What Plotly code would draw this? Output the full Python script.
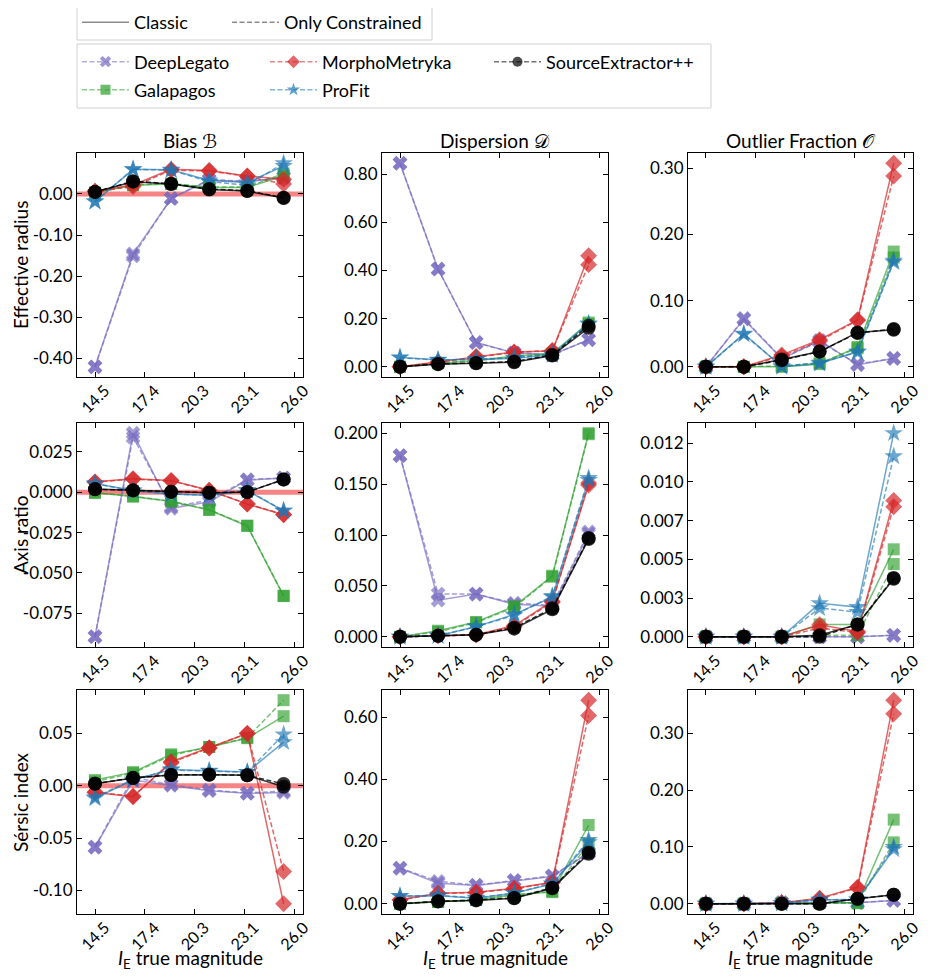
import plotly.graph_objects as go

# magnitude bins (x) and the tick labels shown on every panel
MAGNITUDES = [14.5, 16.7, 18.9, 21.1, 23.3, 25.4]
MAG_TICKS = [14.5, 17.375, 20.25, 23.125, 26.0]
MAG_TICK_LABELS = ["14.5", "17.4", "20.3", "23.1", "26.0"]

METHODS = ["DeepLegato", "Galapagos", "MorphoMetryka", "ProFit", "SourceExtractor++"]
COLUMN_TITLES = ["Bias ℬ", "Dispersion 𝒟", "Outlier Fraction 𝒪"]
ROW_TITLES = ["Effective radius", "Axis ratio", "Sérsic index"]
X_TITLE = "<i>I</i><sub>E</sub> true magnitude"

# each panel: method -> (classic, only constrained)
REFF_BIAS = {
    "DeepLegato": ([-0.421, -0.146, -0.011, 0.034, 0.030, 0.040], [-0.421, -0.151, -0.011, 0.035, 0.031, 0.041]),
    "Galapagos": ([0.003, 0.021, 0.024, 0.016, 0.016, 0.044], [0.003, 0.022, 0.025, 0.017, 0.017, 0.050]),
    "MorphoMetryka": ([0.007, 0.022, 0.060, 0.057, 0.044, 0.036], [0.006, 0.018, 0.058, 0.056, 0.043, 0.024]),
    "ProFit": ([-0.019, 0.060, 0.059, 0.033, 0.028, 0.068], [-0.018, 0.060, 0.058, 0.030, 0.021, 0.075]),
    "SourceExtractor++": ([0.005, 0.030, 0.024, 0.011, 0.007, -0.010], [0.005, 0.031, 0.025, 0.012, 0.008, -0.009]),
}
REFF_DISP = {
    "DeepLegato": ([0.844, 0.406, 0.101, 0.058, 0.050, 0.112], [0.845, 0.405, 0.100, 0.057, 0.050, 0.113]),
    "Galapagos": ([0.0, 0.015, 0.025, 0.045, 0.055, 0.184], [0.0, 0.016, 0.027, 0.040, 0.053, 0.178]),
    "MorphoMetryka": ([0.0, 0.020, 0.043, 0.062, 0.066, 0.461], [0.0, 0.018, 0.040, 0.060, 0.068, 0.424]),
    "ProFit": ([0.039, 0.029, 0.030, 0.035, 0.050, 0.180], [0.038, 0.028, 0.032, 0.038, 0.052, 0.176]),
    "SourceExtractor++": ([0.0, 0.011, 0.015, 0.019, 0.047, 0.162], [0.0, 0.012, 0.016, 0.022, 0.049, 0.170]),
}
REFF_OUT = {
    "DeepLegato": ([0.0, 0.072, 0.012, 0.040, 0.003, 0.0125], [0.0, 0.073, 0.013, 0.038, 0.004, 0.013]),
    "Galapagos": ([0.0, 0.0, 0.0, 0.004, 0.030, 0.174], [0.0, 0.0, 0.001, 0.006, 0.028, 0.165]),
    "MorphoMetryka": ([0.0, 0.0, 0.018, 0.041, 0.071, 0.3075], [0.0, 0.0, 0.016, 0.039, 0.070, 0.288]),
    "ProFit": ([0.0, 0.050, 0.0, 0.005, 0.023, 0.160], [0.0, 0.049, 0.001, 0.006, 0.022, 0.158]),
    "SourceExtractor++": ([0.0, 0.0, 0.011, 0.023, 0.052, 0.056], [0.0, 0.0, 0.010, 0.023, 0.051, 0.057]),
}
AXR_BIAS = {
    "DeepLegato": ([-0.0895, 0.0365, -0.010, -0.006, 0.0074, 0.0087], [-0.0893, 0.034, -0.009, -0.005, 0.0078, 0.0088]),
    "Galapagos": ([-0.0004, -0.0027, -0.0058, -0.011, -0.0209, -0.0643], [-0.0003, -0.0026, -0.0056, -0.0108, -0.0207, -0.0641]),
    "MorphoMetryka": ([0.0064, 0.0083, 0.0072, 0.0012, -0.0074, -0.014], [0.0062, 0.0081, 0.0070, 0.0010, -0.0072, -0.0138]),
    "ProFit": ([0.0054, 0.001, -0.0012, -0.002, 0.001, -0.0116], [0.0052, 0.0009, -0.0011, -0.0019, 0.0011, -0.0114]),
    "SourceExtractor++": ([0.0019, 0.0012, 0.0002, -0.0004, 0.0, 0.0079], [0.0018, 0.0011, 0.0002, -0.0003, 0.0001, 0.0078]),
}
AXR_DISP = {
    "DeepLegato": ([0.178, 0.036, 0.042, 0.032, 0.030, 0.101], [0.178, 0.042, 0.042, 0.033, 0.031, 0.103]),
    "Galapagos": ([0.0, 0.006, 0.0145, 0.030, 0.060, 0.200], [0.0, 0.005, 0.014, 0.029, 0.059, 0.199]),
    "MorphoMetryka": ([0.0, 0.0013, 0.002, 0.011, 0.035, 0.149], [0.0, 0.0012, 0.002, 0.010, 0.034, 0.151]),
    "ProFit": ([0.0, 0.001, 0.010, 0.022, 0.039, 0.154], [0.0, 0.001, 0.010, 0.021, 0.040, 0.156]),
    "SourceExtractor++": ([0.0, 0.001, 0.002, 0.008, 0.027, 0.096], [0.0, 0.001, 0.002, 0.009, 0.028, 0.097]),
}
AXR_OUT = {
    "DeepLegato": ([0.0, 0.0, 0.0, 0.0, 0.0, 0.0001], [0.0, 0.0, 0.0, 0.0, 0.0, 0.0001]),
    "Galapagos": ([0.0, 0.0, 0.0, 0.0008, 0.0008, 0.00565], [0.0, 0.0, 0.0, 0.0001, 0.0001, 0.0047]),
    "MorphoMetryka": ([0.0, 0.0, 0.0, 0.00078, 0.00034, 0.0088], [0.0, 0.0, 0.0, 0.00056, 0.00028, 0.0084]),
    "ProFit": ([0.0, 0.0, 0.0, 0.00216, 0.00192, 0.01315], [0.0, 0.0, 0.0, 0.00185, 0.0016, 0.01166]),
    "SourceExtractor++": ([0.0, 0.0, 0.0, 0.0001, 0.0008, 0.00375], [0.0, 0.0, 0.0, 0.0, 0.0008, 0.0038]),
}
SERSIC_BIAS = {
    "DeepLegato": ([-0.0588, 0.0054, 0.0003, -0.0048, -0.0073, -0.0064], [-0.0585, 0.008, 0.001, -0.004, -0.007, -0.005]),
    "Galapagos": ([0.0054, 0.013, 0.030, 0.037, 0.0454, 0.0664], [0.004, 0.012, 0.029, 0.037, 0.046, 0.0817]),
    "MorphoMetryka": ([-0.0064, -0.0105, 0.0229, 0.0362, 0.0499, -0.1128], [-0.006, -0.010, 0.022, 0.036, 0.050, -0.082]),
    "ProFit": ([-0.012, 0.0054, 0.0156, 0.0143, 0.013, 0.0416], [-0.011, 0.006, 0.015, 0.014, 0.013, 0.049]),
    "SourceExtractor++": ([0.0019, 0.0073, 0.0102, 0.0105, 0.0099, -0.001], [0.002, 0.0075, 0.0103, 0.0106, 0.010, 0.0016]),
}
SERSIC_DISP = {
    "DeepLegato": ([0.114, 0.066, 0.059, 0.074, 0.088, 0.163], [0.115, 0.072, 0.060, 0.075, 0.090, 0.165]),
    "Galapagos": ([0.0, 0.006, 0.013, 0.029, 0.0375, 0.253], [0.0, 0.006, 0.012, 0.028, 0.040, 0.193]),
    "MorphoMetryka": ([0.013, 0.034, 0.0375, 0.050, 0.069, 0.654], [0.012, 0.033, 0.036, 0.048, 0.068, 0.605]),
    "ProFit": ([0.024, 0.026, 0.018, 0.034, 0.064, 0.198], [0.025, 0.027, 0.019, 0.035, 0.065, 0.205]),
    "SourceExtractor++": ([0.0, 0.0075, 0.011, 0.018, 0.050, 0.161], [0.0, 0.008, 0.012, 0.019, 0.052, 0.165]),
}
SERSIC_OUT = {
    "DeepLegato": ([0.0, 0.0, 0.002, 0.002, 0.002, 0.006], [0.0, 0.0, 0.002, 0.002, 0.002, 0.006]),
    "Galapagos": ([0.0, 0.0, 0.001, 0.002, 0.002, 0.148], [0.0, 0.0, 0.001, 0.001, 0.001, 0.108]),
    "MorphoMetryka": ([0.0, 0.0, 0.002, 0.010, 0.029, 0.358], [0.0, 0.0, 0.002, 0.009, 0.028, 0.334]),
    "ProFit": ([0.0, 0.0, 0.001, 0.007, 0.007, 0.096], [0.0, 0.0, 0.001, 0.007, 0.008, 0.100]),
    "SourceExtractor++": ([0.0, 0.0, 0.0, 0.0, 0.009, 0.016], [0.0, 0.0, 0.0, 0.0, 0.009, 0.016]),
}

# y ticks per panel (values, labels)
REFF_BIAS_TICKS = ([-0.4, -0.3, -0.2, -0.1, 0.0, 0.1], ["-0.40", "-0.30", "-0.20", "-0.10", "0.00", "0.10"])
REFF_DISP_TICKS = ([0.0, 0.2, 0.4, 0.6, 0.8], ["0.00", "0.20", "0.40", "0.60", "0.80"])
REFF_OUT_TICKS = ([0.0, 0.1, 0.2, 0.3], ["0.00", "0.10", "0.20", "0.30"])
AXR_BIAS_TICKS = ([-0.075, -0.05, -0.025, 0.0, 0.025], ["-0.075", "-0.050", "-0.025", "0.000", "0.025"])
AXR_DISP_TICKS = ([0.0, 0.05, 0.1, 0.15, 0.2], ["0.000", "0.050", "0.100", "0.150", "0.200"])
AXR_OUT_TICKS = ([0.0, 0.0025, 0.005, 0.0075, 0.01, 0.0125], ["0.000", "0.003", "0.005", "0.007", "0.010", "0.012"])
SERSIC_BIAS_TICKS = ([-0.1, -0.05, 0.0, 0.05], ["-0.10", "-0.05", "0.00", "0.05"])
SERSIC_DISP_TICKS = ([0.0, 0.2, 0.4, 0.6], ["0.00", "0.20", "0.40", "0.60"])
SERSIC_OUT_TICKS = ([0.0, 0.1, 0.2, 0.3], ["0.00", "0.10", "0.20", "0.30"])

PANELS = [
    (REFF_BIAS, REFF_BIAS_TICKS), (REFF_DISP, REFF_DISP_TICKS), (REFF_OUT, REFF_OUT_TICKS),
    (AXR_BIAS, AXR_BIAS_TICKS), (AXR_DISP, AXR_DISP_TICKS), (AXR_OUT, AXR_OUT_TICKS),
    (SERSIC_BIAS, SERSIC_BIAS_TICKS), (SERSIC_DISP, SERSIC_DISP_TICKS), (SERSIC_OUT, SERSIC_OUT_TICKS),
]

COLORS = {
    "DeepLegato": "117,104,190",
    "Galapagos": "44,160,44",
    "MorphoMetryka": "214,39,40",
    "ProFit": "31,119,180",
    "SourceExtractor++": "0,0,0",
}
SYMBOLS = {"DeepLegato": "x", "Galapagos": "square", "MorphoMetryka": "diamond",
           "ProFit": "star", "SourceExtractor++": "circle"}
SIZES = {"DeepLegato": 13, "Galapagos": 12, "MorphoMetryka": 13, "ProFit": 14, "SourceExtractor++": 14}
ALPHA = {"DeepLegato": 0.65, "Galapagos": 0.65, "MorphoMetryka": 0.7, "ProFit": 0.65, "SourceExtractor++": 0.8}

# the page puts the figure 8px in from the corner, so work in reference pixels minus 8
OFF = 8
FW, FH = 936 - 2 * OFF, 979 - 2 * OFF
COL_PX = [(77, 303), (382, 608), (688, 913)]
ROW_PX = [(153, 377), (423, 647), (690, 914)]
FONT = "Lato, 'DejaVu Sans', sans-serif"
DASH = "5px,2.5px"


def px(x):
    return (x - OFF) / FW


def py(y):
    return 1 - (y - OFF) / FH


def rgba(name, a=None):
    return "rgba(%s,%s)" % (COLORS[name], ALPHA[name] if a is None else a)


fig = go.Figure()
layout = dict(
    width=FW, height=FH,
    margin=dict(l=0, r=0, t=0, b=0, autoexpand=False),
    paper_bgcolor="white", plot_bgcolor="white",
    font=dict(family=FONT, size=18, color="black"),
    showlegend=True,
)
annotations = []
shapes = []

for k, (panel, ticks) in enumerate(PANELS):
    row, col = divmod(k, 3)
    sfx = "" if k == 0 else str(k + 1)
    xa, ya = "x" + sfx, "y" + sfx

    for m in METHODS:
        classic, constrained = panel[m]
        for vals, dash in ((classic, "solid"), (constrained, DASH)):
            fig.add_trace(go.Scatter(
                x=MAGNITUDES, y=vals, xaxis=xa, yaxis=ya, mode="lines+markers",
                line=dict(color=rgba(m), width=1.5, dash=dash),
                marker=dict(symbol=SYMBOLS[m], size=SIZES[m], color=rgba(m), line=dict(width=0)),
                showlegend=False, hoverinfo="skip",
            ))

    allv = [v for m in METHODS for s in panel[m] for v in s] + [0.0]
    lo, hi = min(allv), max(allv)
    pad = 0.05 * (hi - lo)

    x0, x1 = COL_PX[col]
    y0, y1 = ROW_PX[row]
    axis_common = dict(showline=True, linecolor="black", linewidth=1, mirror="ticks",
                       ticks="inside", ticklen=5, tickwidth=1, tickcolor="black",
                       showgrid=False, zeroline=False, tickfont=dict(size=17))
    layout["xaxis" + sfx] = dict(axis_common, domain=[px(x0), px(x1)], anchor=ya,
                                 range=[13.46, 26.52], tickmode="array", tickvals=MAG_TICKS,
                                 ticktext=MAG_TICK_LABELS, tickangle=-45, tickfont=dict(size=16),
                                 ticklabelshift=10, ticklabelstandoff=-3)
    layout["yaxis" + sfx] = dict(axis_common, domain=[py(y1), py(y0)], anchor=xa,
                                 range=[lo - pad, hi + pad], tickmode="array",
                                 tickvals=ticks[0], ticktext=ticks[1])

    if col == 0:
        # reference line of zero bias
        shapes.append(dict(type="line", xref=xa + " domain", yref=ya, x0=0, x1=1, y0=0, y1=0,
                           line=dict(color="rgba(240,50,50,0.6)", width=5), layer="below"))
        annotations.append(dict(text=ROW_TITLES[row], x=px(20), y=py((y0 + y1) / 2),
                                xanchor="center", yanchor="middle",
                                xref="paper", yref="paper", showarrow=False, textangle=-90,
                                font=dict(size=19)))
    if row == 0:
        annotations.append(dict(text=COLUMN_TITLES[col], x=px((x0 + x1) / 2), y=py(141),
                                xanchor="center", yanchor="middle",
                                xref="paper", yref="paper", showarrow=False, font=dict(size=19)))
    if row == 2:
        annotations.append(dict(text=X_TITLE, x=px((x0 + x1) / 2), y=py(959),
                                xanchor="center", yanchor="middle",
                                xref="paper", yref="paper", showarrow=False, font=dict(size=19)))

# legend entries, one small legend per entry so each sits where the reference has it
LEGEND_SLOTS = {
    "Classic": ("legend", 83, 22.5),
    "Only Constrained": ("legend2", 233, 22.5),
    "DeepLegato": ("legend3", 83, 62),
    "Galapagos": ("legend4", 83, 90),
    "MorphoMetryka": ("legend5", 271, 62),
    "ProFit": ("legend6", 271, 90),
    "SourceExtractor++": ("legend7", 495, 62),
}
for name, dash in (("Classic", "solid"), ("Only Constrained", DASH)):
    fig.add_trace(go.Scatter(x=[None], y=[None], mode="lines", name=name, legend=LEGEND_SLOTS[name][0],
                             line=dict(color="rgba(110,110,110,0.8)", width=1.5, dash=dash)))
for m in METHODS:
    fig.add_trace(go.Scatter(x=[None], y=[None], mode="lines+markers", name=m, legend=LEGEND_SLOTS[m][0],
                             line=dict(color=rgba(m, 0.55), width=1.5, dash=DASH),
                             marker=dict(symbol=SYMBOLS[m], size=10, color=rgba(m, 0.7), line=dict(width=0))))

for name, (leg, sx, sy) in LEGEND_SLOTS.items():
    layout[leg] = dict(orientation="h", xanchor="left", yanchor="middle", bgcolor="rgba(0,0,0,0)",
                       borderwidth=0, font=dict(size=18), itemwidth=47,
                       x=px(sx - 6), y=py(sy))

for bx0, by0, bx1, by1 in ((77, 5, 432, 40), (77, 44, 711, 108)):
    shapes.append(dict(type="rect", xref="paper", yref="paper", x0=px(bx0), x1=px(bx1),
                       y0=py(by1), y1=py(by0), line=dict(color="#d0d0d0", width=1)))

layout["annotations"] = annotations
layout["shapes"] = shapes
fig.update_layout(**layout)
fig.write_html("out.html")
